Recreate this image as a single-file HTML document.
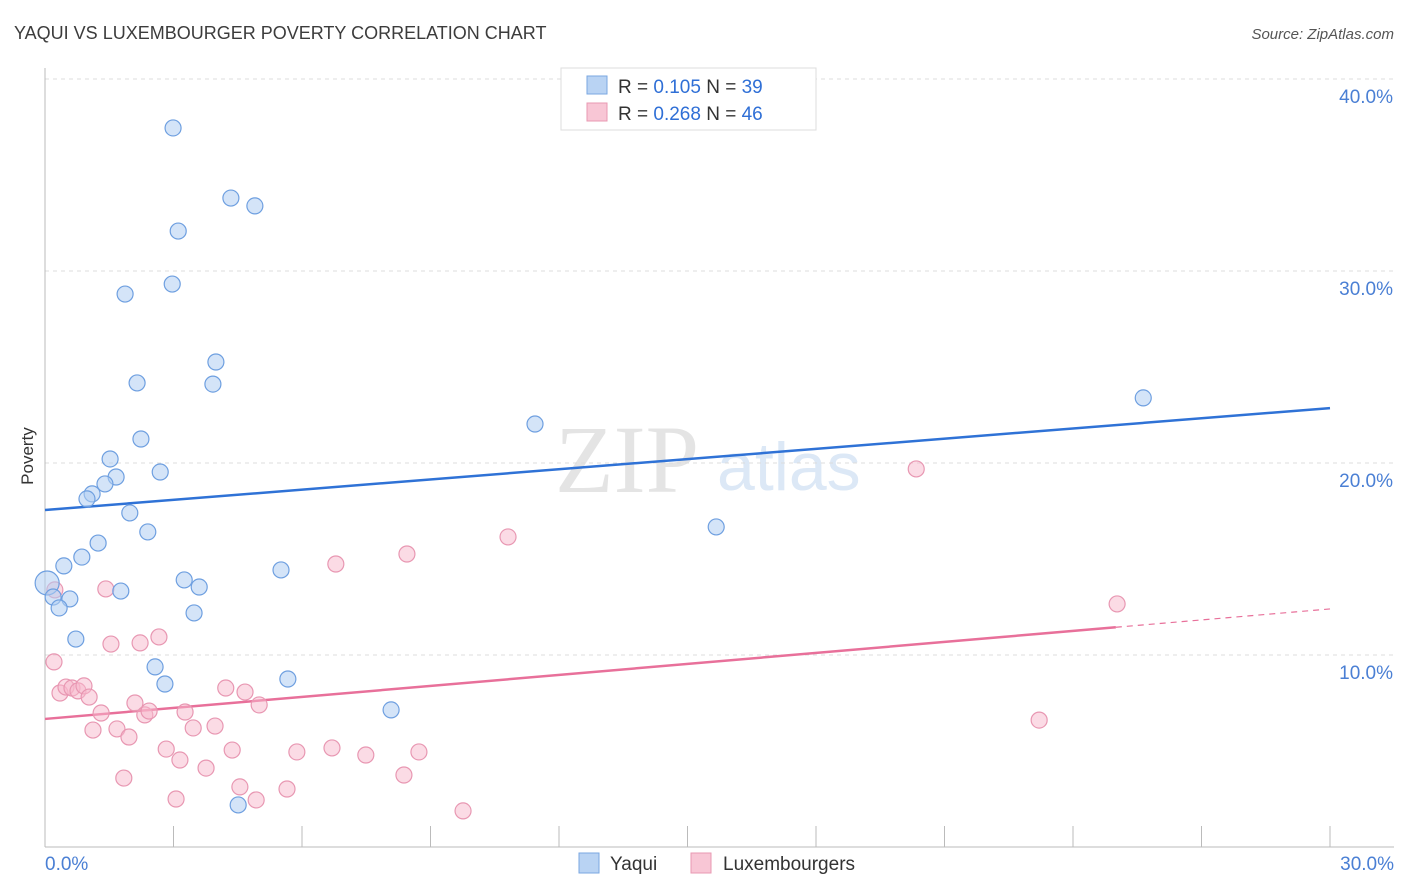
<!DOCTYPE html>
<html><head><meta charset="utf-8"><style>
body{margin:0;background:#fff;font-family:"Liberation Sans",sans-serif;}
#wrap{position:relative;width:1406px;height:892px;overflow:hidden}
</style></head><body>
<div id="wrap">
<svg id="svg" width="1406" height="892">
<text x="14" y="39" font-size="18" fill="#3c3c3c">YAQUI VS LUXEMBOURGER POVERTY CORRELATION CHART</text>
<text x="1394" y="39" font-size="15" fill="#555" font-style="italic" text-anchor="end">Source: ZipAtlas.com</text>
<text x="33" y="456" font-size="17" fill="#333" transform="rotate(-90 33 456)" text-anchor="middle">Poverty</text>
<text x="555" y="492" font-size="96" fill="#e4e4e4" font-family="Liberation Serif,serif">ZIP</text>
<text x="717" y="490" font-size="68" fill="#dce8f6">atlas</text>
<g id="grid"></g><g id="axes"></g><g id="lines"></g><g id="pts"></g>
<g>
<rect x="561" y="68" width="255" height="62" fill="#fff" stroke="#ddd"/>
<rect x="587" y="76" width="20" height="18" fill="#b9d3f3" stroke="#7aa7e2"/>
<text x="618" y="93" font-size="19" fill="#333">R = <tspan fill="#2f6fd6">0.105</tspan>   N = <tspan fill="#2f6fd6">39</tspan></text>
<rect x="587" y="103" width="20" height="18" fill="#f8c6d5" stroke="#e898b2"/>
<text x="618" y="120" font-size="19" fill="#333">R = <tspan fill="#2f6fd6">0.268</tspan>   N = <tspan fill="#2f6fd6">46</tspan></text>
</g>
<g>
<rect x="579" y="853" width="20" height="20" fill="#b9d3f3" stroke="#7aa7e2"/>
<text x="610" y="870" font-size="19" fill="#333">Yaqui</text>
<rect x="691" y="853" width="20" height="20" fill="#f8c6d5" stroke="#e898b2"/>
<text x="723" y="870" font-size="19" fill="#333">Luxembourgers</text>
</g>
</svg></div>
<script>
const yTicks=[10,20,30,40];
const yTickLabels=["10.0%","20.0%","30.0%","40.0%"];
const xTickLabels=["0.0%","30.0%"];
const yaquiX=[2.99,4.34,4.90,3.11,1.87,2.97,3.99,2.15,3.92,2.24,1.52,2.69,1.66,1.40,1.10,0.98,1.98,2.40,1.24,0.86,0.44,0.05,0.19,0.58,0.33,1.77,3.25,3.60,3.48,5.51,0.72,2.57,2.80,5.67,8.08,4.51,11.44,15.67,25.64];
const yaquiY=[37.45,33.8,33.39,32.08,28.8,29.32,25.26,24.17,24.11,21.25,20.21,19.53,19.27,18.91,18.39,18.13,17.40,16.41,15.83,15.10,14.64,13.75,13.02,12.92,12.45,13.33,13.91,13.54,12.19,14.43,10.83,9.38,8.49,8.75,7.14,2.19,22.03,16.67,23.39];
const luxX=[20.34,10.81,8.45,6.79,25.03,1.42,0.23,0.21,1.54,2.22,2.66,0.35,0.49,0.63,0.77,0.91,1.03,1.31,1.12,1.68,1.96,2.10,2.33,2.43,3.27,3.46,3.97,4.22,4.67,5.00,2.83,3.15,3.76,4.37,5.88,6.70,7.49,8.73,8.38,1.84,3.06,4.55,4.93,5.65,9.76,23.21];
const luxY=[19.69,16.15,15.26,14.74,12.66,13.44,13.39,9.64,10.57,10.63,10.94,8.02,8.33,8.28,8.13,8.39,7.81,6.98,6.09,6.15,5.73,7.50,6.88,7.08,7.03,6.20,6.30,8.28,8.07,7.40,5.10,4.53,4.11,5.05,4.95,5.16,4.79,4.95,3.75,3.59,2.50,3.13,2.45,3.02,1.88,6.61];
const yaquiTrend=[17.55,22.86];
const luxTrend=[6.67,12.4];
const luxSolidEnd=25.0;
const NS="http://www.w3.org/2000/svg";
const X=v=>45+v*(1285/30), Y=v=>847-v*19.2;
function mk(tag,a,p){const e=document.createElementNS(NS,tag);for(const k in a)e.setAttribute(k,a[k]);p.appendChild(e);return e;}
const grid=document.getElementById('grid'),axes=document.getElementById('axes'),lines=document.getElementById('lines'),pts=document.getElementById('pts');
yTicks.forEach((t,i)=>{
 const l=mk('line',{x1:45,x2:1394,y1:Y(t),y2:Y(t),stroke:'#dcdcdc','stroke-dasharray':'4,4'},grid);
 
 
 const tx=mk('text',{x:1393,y:Y(t)+24,'font-size':19,fill:'#4a7fd4','text-anchor':'end'},axes);
 tx.textContent=yTickLabels[i];
 
 
});
const xl=mk('line',{x1:45,x2:1394,y1:847,y2:847,stroke:'#bbb'},axes);


const yl=mk('line',{x1:45,x2:45,y1:68,y2:847,stroke:'#bbb'},axes);


for(let i=0;i<=10;i++){const t=mk('line',{x1:X(i*3),x2:X(i*3),y1:826,y2:847,stroke:'#bbb'},axes);
 
 }
const xt0=mk('text',{x:45,y:870,'font-size':19,fill:'#4a7fd4'},axes);xt0.textContent=xTickLabels[0];


const xt1=mk('text',{x:1394,y:870,'font-size':19,fill:'#4a7fd4','text-anchor':'end'},axes);xt1.textContent=xTickLabels[1];


luxX.forEach((x,i)=>{const c=mk('circle',{cx:X(x),cy:Y(luxY[i]),r:8,fill:'rgba(247,184,204,0.5)',stroke:'#e897b2','stroke-width':1.2},pts);
 
 });
yaquiX.forEach((x,i)=>{const c=mk('circle',{cx:X(x),cy:Y(yaquiY[i]),r:i==21?12:8,fill:'rgba(176,206,243,0.55)',stroke:'#6e9fe0','stroke-width':1.2},pts);
 
 });
const bl=mk('line',{x1:X(0),y1:Y(yaquiTrend[0]),x2:X(30),y2:Y(yaquiTrend[1]),stroke:'#2f72d6','stroke-width':2.5},lines);


const py=x=>luxTrend[0]+(luxTrend[1]-luxTrend[0])*x/30;
const pl=mk('line',{x1:X(0),y1:Y(py(0)),x2:X(luxSolidEnd),y2:Y(py(luxSolidEnd)),stroke:'#e8709a','stroke-width':2.5},lines);


const pd=mk('line',{x1:X(luxSolidEnd),y1:Y(py(luxSolidEnd)),x2:X(30),y2:Y(py(30)),stroke:'#e8709a','stroke-width':1.2,'stroke-dasharray':'6,5'},lines);


</script></body></html>
